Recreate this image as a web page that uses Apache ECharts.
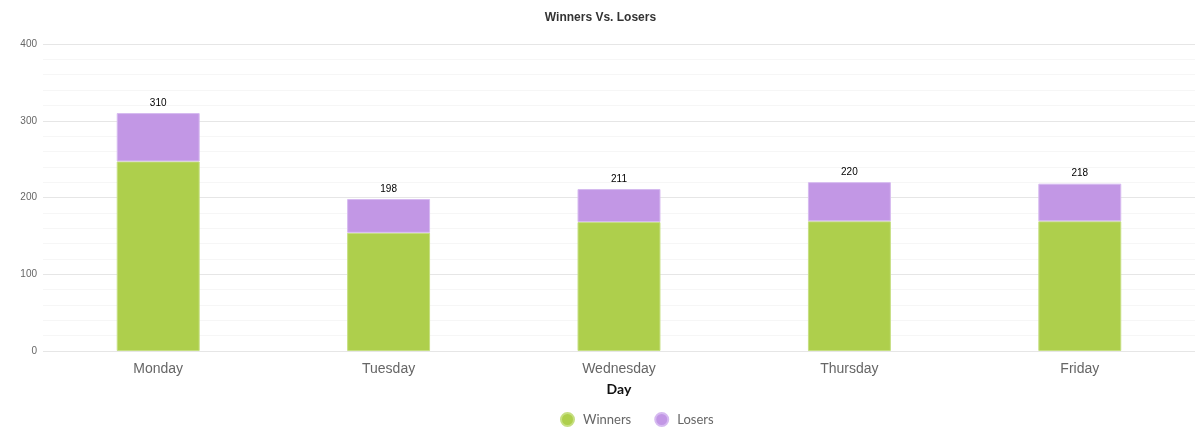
<!DOCTYPE html>
<html>
<head>
<meta charset="utf-8">
<script src="https://cdn.jsdelivr.net/npm/echarts@6/dist/echarts.min.js"></script>
<style>
  html, body { margin: 0; padding: 0; background: #fff; }
  #chart { width: 1201px; height: 447px; }
</style>
</head>
<body>
<div id="chart"></div>
<script>
// data
const days = ['Monday', 'Tuesday', 'Wednesday', 'Thursday', 'Friday'];
const winners = [247, 154, 168, 169, 169];
const losers = [63, 44, 43, 51, 49];
const totals = [310, 198, 211, 220, 218];

const myChart = echarts.init(document.getElementById('chart'));

const option = {
    animation: false,
    title: {
        text: 'Winners Vs. Losers',
        left: 'center',
        top: 7,
        textStyle: {
            fontFamily: 'Arial, Liberation Sans, sans-serif',
            fontSize: 12,
            fontWeight: 'bold',
            color: '#333',
        },
    },
    grid: {
        top: 44,
        left: 43,
        right: 6,
        bottom: 96,
    },
    legend: {
        bottom: 15,
        left: 555,
        icon: 'circle',
        itemWidth: 13,
        itemHeight: 13,
        itemGap: 23,
        textStyle: {
            fontFamily: 'Lato, sans-serif',
            fontSize: 13,
            color: '#666',
            padding: [0, 0, 0, 4],
        },
        data: ['Winners', 'Losers'],
    },
    xAxis: {
        type: 'category',
        data: days,
        name: 'Day',
        nameLocation: 'middle',
        nameGap: 31,
        nameTextStyle: {
            fontFamily: 'Lato, sans-serif',
            fontSize: 14,
            fontWeight: 'bold',
            color: '#111',
        },
        axisLine: { show: false },
        axisTick: { show: false },
        axisLabel: {
            margin: 11,
            fontFamily: 'Arial, Liberation Sans, sans-serif',
            fontSize: 14,
            color: '#666',
        },
    },
    yAxis: {
        type: 'value',
        min: 0,
        max: 400,
        interval: 100,
        axisLabel: {
            margin: 6,
            fontFamily: 'Arial, Liberation Sans, sans-serif',
            fontSize: 10,
            color: '#666',
        },
        splitLine: { lineStyle: { color: '#e6e6e6', width: 1 } },
        minorTick: { show: false, splitNumber: 5 },
        minorSplitLine: { show: true, lineStyle: { color: '#f6f6f6', width: 1 } },
    },
    series: [
        {
            name: 'Winners',
            type: 'bar',
            stack: 'total',
            barWidth: '36%',
            data: winners,
            itemStyle: {
                color: '#aecf4c',
                borderColor: '#c6df82',
                borderWidth: 1,
            },
        },
        {
            name: 'Losers',
            type: 'bar',
            stack: 'total',
            data: losers,
            itemStyle: {
                color: '#c297e5',
                borderColor: '#d6baf0',
                borderWidth: 1,
            },
            label: {
                show: true,
                position: 'top',
                distance: 5,
                fontFamily: 'Arial, Liberation Sans, sans-serif',
                fontSize: 10,
                color: '#000',
                formatter: (p) => totals[p.dataIndex],
            },
        },
    ],
};

myChart.setOption(option);
</script>
</body>
</html>
